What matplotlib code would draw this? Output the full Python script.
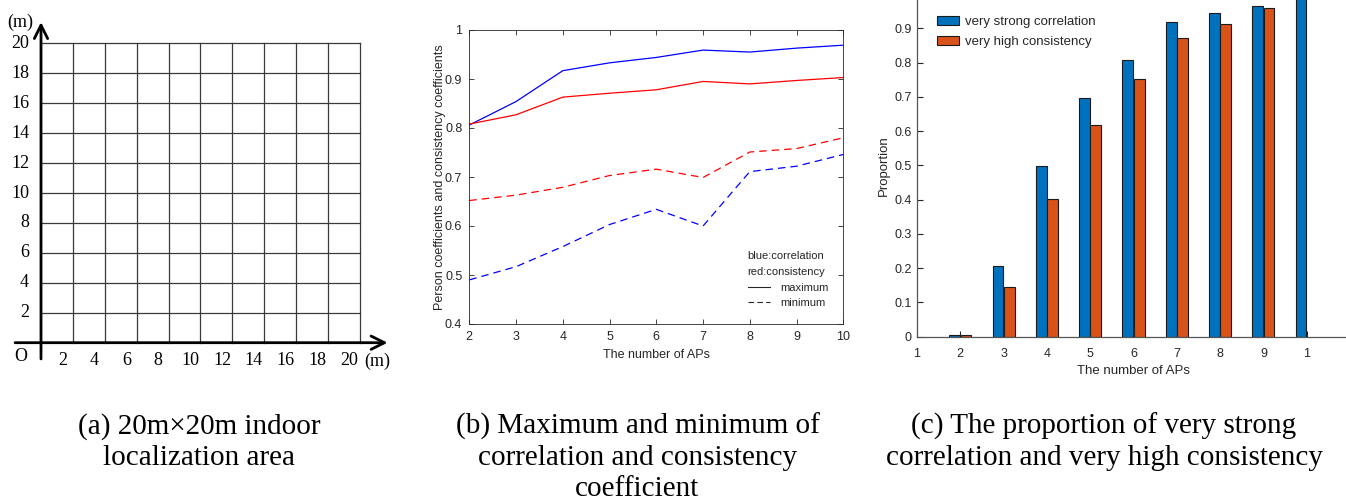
import numpy as np
import matplotlib.pyplot as plt
from matplotlib.lines import Line2D

# (a) localization grid, metres
grid_ticks = [2, 4, 6, 8, 10, 12, 14, 16, 18, 20]

# (b) max / min coefficients against number of APs
aps = [2, 3, 4, 5, 6, 7, 8, 9, 10]
corr_max = [0.806, 0.854, 0.917, 0.933, 0.944, 0.959, 0.955, 0.963, 0.969]
cons_max = [0.808, 0.827, 0.863, 0.871, 0.878, 0.895, 0.890, 0.897, 0.903]
cons_min = [0.652, 0.663, 0.679, 0.703, 0.716, 0.699, 0.751, 0.758, 0.780]
corr_min = [0.490, 0.517, 0.558, 0.603, 0.634, 0.600, 0.711, 0.722, 0.746]

# (c) proportion of very strong correlation / very high consistency
bar_aps = [2, 3, 4, 5, 6, 7, 8, 9, 10]
strong_corr = [0.006, 0.207, 0.499, 0.697, 0.809, 0.919, 0.946, 0.964, 1.0]
cons_aps = [2, 3, 4, 5, 6, 7, 8, 9]
high_cons = [0.006, 0.144, 0.402, 0.618, 0.753, 0.873, 0.914, 0.959]
c_ticks = [1, 2, 3, 4, 5, 6, 7, 8, 9, 10]
c_ticklabels = ['1', '2', '3', '4', '5', '6', '7', '8', '9', '1']

W, H = 1346, 500
fig = plt.figure(figsize=(W / 100, H / 100), dpi=100)

def px_axes(l, t, r, b):
    return fig.add_axes([l / W, 1 - b / H, (r - l) / W, (b - t) / H])

serif = 'Liberation Serif'
sans = 'Liberation Sans'
txt = '#262626'

# ---------- (a) ----------
ax = px_axes(0, 0, 400, 380)
sx, sy = 15.95, 14.97
ax.set_xlim(-41 / sx, (400 - 41) / sx)
ax.set_ylim(-(380 - 342.7) / sy, 342.7 / sy)
ax.axis('off')
for v in grid_ticks:
    ax.plot([v, v], [0, 20], color='#3a3a3a', lw=0.9)
    ax.plot([0, 20], [v, v], color='#3a3a3a', lw=0.9)
ax.annotate('', xy=(21.9, 0), xytext=(-1.8, 0),
            arrowprops=dict(arrowstyle='->', lw=2.0, color='black', mutation_scale=24))
ax.annotate('', xy=(0, 21.6), xytext=(0, -1.27),
            arrowprops=dict(arrowstyle='->', lw=2.0, color='black', mutation_scale=24))
for v in grid_ticks:
    ax.text(-0.75, v, str(v), ha='right', va='center', family=serif, fontsize=13)
    ax.text(v - 0.65, -1.22, str(v), ha='center', va='center', family=serif, fontsize=13)
ax.text(21.1, -1.22, '(m)', ha='center', va='center', family=serif, fontsize=13)
ax.text(-1.3, -0.93, 'O', ha='center', va='center', family=serif, fontsize=13)
ax.text(-1.32, 21.4, '(m)', ha='center', va='center', family=serif, fontsize=13)

# ---------- (b) ----------
ax = px_axes(469.3, 30, 843.3, 324)
ax.plot(aps, corr_max, color='blue', lw=0.9)
ax.plot(aps, cons_max, color='red', lw=0.9)
ax.plot(aps, cons_min, color='red', lw=0.9, ls=(0, (6, 4)))
ax.plot(aps, corr_min, color='blue', lw=0.9, ls=(0, (6, 4)))
ax.set_xlim(2, 10)
ax.set_ylim(0.4, 1.0)
ax.set_xticks(aps)
ax.set_yticks([0.4, 0.5, 0.6, 0.7, 0.8, 0.9, 1.0])
ax.set_yticklabels(['0.4', '0.5', '0.6', '0.7', '0.8', '0.9', '1'])
ax.tick_params(direction='in', length=3.5, width=0.6, colors=txt, labelsize=9,
               top=True, right=True, pad=5)
for s in ax.spines.values():
    s.set_color(txt)
    s.set_linewidth(0.6)
ax.set_xlabel('The number of APs', family=sans, fontsize=9, color=txt, labelpad=4)
ax.set_ylabel('Person coefficients and consistency coefficients', family=sans,
              fontsize=9, color=txt, labelpad=-1)
for lab in ax.get_xticklabels() + ax.get_yticklabels():
    lab.set_family(sans)
ax.text(0.744, 0.231, 'blue:correlation', transform=ax.transAxes, family=sans,
        fontsize=8, color=txt, va='center')
ax.text(0.744, 0.176, 'red:consistency', transform=ax.transAxes, family=sans,
        fontsize=8, color=txt, va='center')
handles = [Line2D([], [], color=txt, lw=0.8),
           Line2D([], [], color=txt, lw=0.8, ls=(0, (5, 3)))]
ax.legend(handles, ['maximum', 'minimum'], loc='upper left',
          bbox_to_anchor=(0.73, 0.16), frameon=False, handlelength=2.0,
          handletextpad=0.9, labelspacing=0.45, borderpad=0,
          prop=dict(family=sans, size=8), labelcolor=txt)

# ---------- (c) ----------
ax = px_axes(917, -5.9, 1350, 336.7)
bw = 0.25
ax.bar(np.array(bar_aps) - 0.13, strong_corr, width=bw, color='#0072BD',
       edgecolor='#1a1a1a', lw=0.8, label='very strong correlation')
ax.bar(np.array(cons_aps) + 0.13, high_cons, width=bw, color='#D95319',
       edgecolor='#1a1a1a', lw=0.8, label='very high consistency')
ax.set_xlim(1, 11)
ax.set_ylim(0, 1)
ax.set_xticks(c_ticks)
ax.set_xticklabels(c_ticklabels)
ax.set_yticks(np.arange(0, 1.0, 0.1))
ax.set_yticklabels(['0', '0.1', '0.2', '0.3', '0.4', '0.5', '0.6', '0.7', '0.8', '0.9'])
ax.tick_params(direction='in', length=4, width=0.8, colors=txt, labelsize=9, pad=4)
ax.tick_params(axis='x', pad=8)
for lab in ax.get_xticklabels() + ax.get_yticklabels():
    lab.set_family(sans)
for side in ['top', 'right']:
    ax.spines[side].set_visible(False)
for side in ['left', 'bottom']:
    ax.spines[side].set_color('#555555')
    ax.spines[side].set_linewidth(0.9)
ax.set_xlabel('The number of APs', family=sans, fontsize=9.5, color=txt, labelpad=4)
ax.set_ylabel('Proportion', family=sans, fontsize=9.5, color=txt, labelpad=3)
ax.legend(loc='upper left', bbox_to_anchor=(0.031, 0.955), frameon=False,
          handlelength=1.7, handleheight=0.7, handletextpad=0.45, labelspacing=0.55,
          borderpad=0, prop=dict(family=sans, size=9.5), labelcolor=txt)

# ---------- captions ----------
cap = dict(ha='center', va='top', family=serif, fontsize=21, linespacing=1.24)
fig.text(199 / W, 1 - 413 / H, '(a) 20m\u00d720m indoor\nlocalization area', **cap)
fig.text(637.5 / W, 1 - 413 / H, '(b) Maximum and minimum of\ncorrelation and consistency\ncoefficient', **cap)
fig.text(1104 / W, 1 - 413 / H, '(c) The proportion of very strong\ncorrelation and very high consistency', **cap)

fig.savefig('out.png', dpi=100)
